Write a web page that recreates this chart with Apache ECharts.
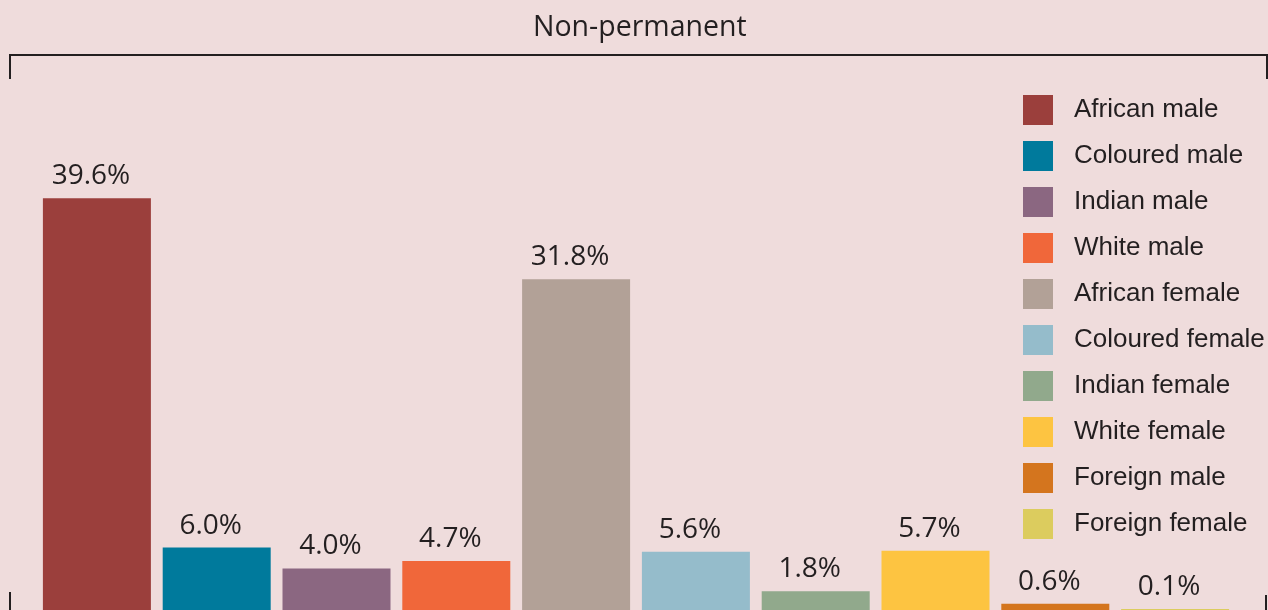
<!DOCTYPE html>
<html>
<head>
<meta charset="utf-8">
<script src="https://cdn.jsdelivr.net/npm/echarts@6/dist/echarts.min.js"></script>
<style>
  html, body { margin: 0; padding: 0; background: #efdcdc; }
  #chart { width: 1268px; height: 610px; }
</style>
</head>
<body>
<div id="chart"></div>
<script>
// groups, in the same order as the bars and the legend
var groups = [
  "African male", "Coloured male", "Indian male", "White male",
  "African female", "Coloured female", "Indian female", "White female",
  "Foreign male", "Foreign female"
];
var shares = [39.6, 6.0, 4.0, 4.7, 31.8, 5.6, 1.8, 5.7, 0.6, 0.1];
var colours = [
  "#9b3f3c", "#007a9c", "#8b6781", "#f0673a", "#b2a197",
  "#95bccb", "#91a98c", "#fdc441", "#d4751e", "#dccc5e"
];
var chartTitle = "Non-permanent";

var chart = echarts.init(document.getElementById("chart"));

// one series per group so each gets its own legend entry
var series = groups.map(function (name, i) {
  var data = shares.map(function (v, j) { return j === i ? v : null; });
  return {
    name: name,
    type: "bar",
    stack: "all",
    barWidth: 108,
    data: data,
    itemStyle: { color: colours[i] },
    label: {
      show: true,
      position: "top",
      distance: 8,
      offset: [-6, 0],
      color: "#231f20",
      fontFamily: "Open Sans",
      fontSize: 28,
      formatter: function (p) { return p.value.toFixed(1) + "%"; }
    }
  };
});

var option = {
  backgroundColor: "#efdcdc",
  animation: false,
  textStyle: { fontFamily: "Liberation Sans" },
  title: {
    text: chartTitle,
    left: 528,
    top: 8,
    textStyle: {
      color: "#231f20",
      fontFamily: "Open Sans",
      fontWeight: "normal",
      fontSize: 28.5
    }
  },
  legend: {
    orient: "vertical",
    left: 1018,
    top: 90,
    itemWidth: 30,
    itemHeight: 30,
    itemGap: 16,
    icon: "rect",
    data: groups,
    textStyle: {
      color: "#231f20",
      fontFamily: "Liberation Sans",
      fontSize: 26,
      padding: [0, 0, 0, 16]
    }
  },
  grid: { left: 37, right: 33, top: 90, bottom: -5.5 },
  xAxis: {
    type: "category",
    data: groups,
    show: false
  },
  yAxis: {
    type: "value",
    min: 0,
    max: 50,
    show: false
  },
  // bracket around the panel
  graphic: [
    {
      type: "polyline",
      shape: { points: [[10, 79], [10, 55], [1267, 55], [1267, 79]] },
      style: { stroke: "#231f20", lineWidth: 2, fill: null }
    },
    {
      type: "line",
      shape: { x1: 10, y1: 592, x2: 10, y2: 610 },
      style: { stroke: "#231f20", lineWidth: 2 }
    },
    {
      type: "line",
      shape: { x1: 1266, y1: 595, x2: 1266, y2: 610 },
      style: { stroke: "#231f20", lineWidth: 2 }
    }
  ],
  series: series
};

chart.setOption(option);
</script>
</body>
</html>
